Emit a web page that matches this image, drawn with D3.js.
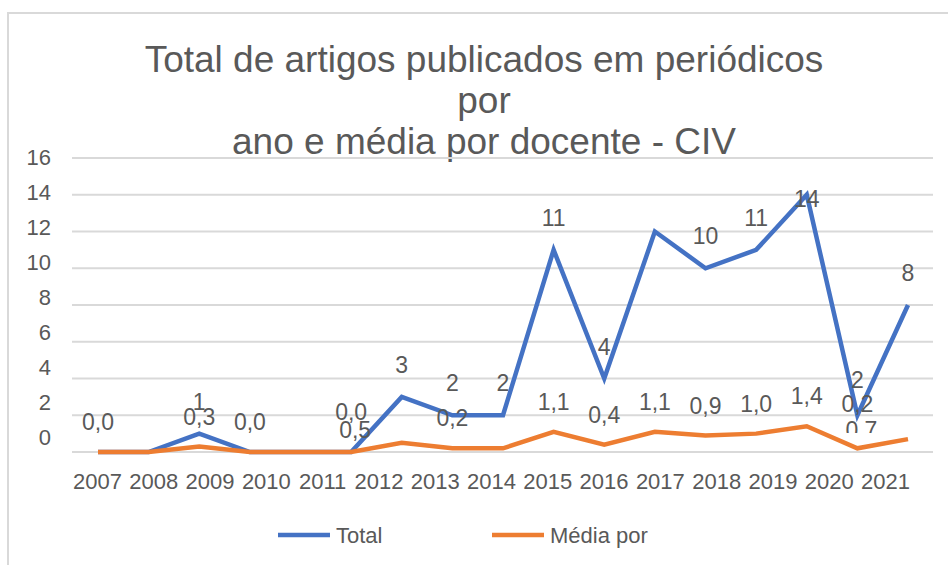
<!DOCTYPE html>
<html>
<head>
<meta charset="utf-8">
<script src="https://cdn.jsdelivr.net/npm/d3@7/dist/d3.min.js"></script>
<style>
body { margin:0; background:#fff; }
text { font-family:"Liberation Sans", Arial, sans-serif; fill:#595959; }
</style>
</head>
<body>
<svg id="chart"></svg>
<script>
// categories shown on the axis
var years = ["2007","2008","2009","2010","2011","2012","2013","2014",
             "2015","2016","2017","2018","2019","2020","2021"];

// series values (one per plotted point)
var total = [0,0,1,0,0,0,3,2,2,11,4,12,10,11,14,2,8];
var media = [0,0,0.3,0,0,0,0.5,0.2,0.2,1.1,0.4,1.1,0.9,1.0,1.4,0.2,0.7];

var yTicks = [0,2,4,6,8,10,12,14,16];

// which points carry a data label
var totalLabelIdx = [2,6,7,8,9,10,12,13,14,15,16];
var mediaLabelIdx = [0,2,3,5,6,7,9,10,11,12,13,14,15,16];

var titleLines = ["Total de artigos publicados em periódicos","por","ano e média por docente - CIV"];
var seriesNames = ["Total","Média por"];
var colors = ["#4472C4","#ED7D31"];

var fmt = function(v){ return d3.format(".1f")(v).replace(".",","); };

var screen = {width:948, height:565};

var svg = d3.select("#chart")
    .attr("width",screen.width)
    .attr("height",screen.height);

// outer frame (only top and left show in the picture)
svg.append("path")
    .attr("d","M8,565 L8,13 L948,13")
    .attr("fill","none")
    .attr("stroke","#D9D9D9")
    .attr("stroke-width",2);

// title
svg.append("g").selectAll("text")
    .data(titleLines)
    .enter()
    .append("text")
    .attr("x",484)
    .attr("y",function(d,i){ return 72 + i*41; })
    .attr("text-anchor","middle")
    .attr("font-size",37)
    .text(function(d){ return d; });

// scales
var xScale = d3.scaleLinear()
    .domain([0,total.length-1])
    .range([98,908]);

var yScale = d3.scaleLinear()
    .domain([0,16])
    .range([452,158]);

// tick labels sit slightly off the gridlines in the original
var yLabelScale = d3.scaleLinear()
    .domain([0,16])
    .range([437,157]);

var xLabelScale = d3.scalePoint()
    .domain(years)
    .range([97,885]);

// gridlines
svg.append("g")
    .selectAll("line")
    .data(yTicks)
    .enter()
    .append("line")
    .attr("x1",72)
    .attr("x2",933)
    .attr("y1",function(d){ return yScale(d); })
    .attr("y2",function(d){ return yScale(d); })
    .attr("stroke","#D9D9D9")
    .attr("stroke-width",2);

// y axis labels
var yAxis = d3.axisLeft(yLabelScale).tickValues(yTicks).tickSize(0).tickPadding(0);
var yg = svg.append("g")
    .attr("transform","translate(51,0)")
    .call(yAxis);
yg.select(".domain").remove();
yg.selectAll("text")
    .attr("font-size",22)
    .attr("font-family","Liberation Sans, Arial, sans-serif")
    .attr("fill","#595959");

// x axis labels
var xAxis = d3.axisBottom(xLabelScale).tickSize(0).tickPadding(0);
var xg = svg.append("g")
    .attr("transform","translate(0,473)")
    .call(xAxis);
xg.select(".domain").remove();
xg.selectAll("text")
    .attr("font-size",22)
    .attr("font-family","Liberation Sans, Arial, sans-serif")
    .attr("fill","#595959");

// lines
var lineGenerator = d3.line()
    .x(function(d,i){ return xScale(i); })
    .y(function(d){ return yScale(d); });

[total,media].forEach(function(series,k){
    svg.append("path")
        .datum(series)
        .attr("d",lineGenerator)
        .attr("fill","none")
        .attr("stroke",colors[k])
        .attr("stroke-width",4.5)
        .attr("stroke-linejoin","miter");
});

// data labels
var labels = svg.append("g");

// small nudges to follow where the original put a few labels
var totalNudge = {14:36, 15:-3};
labels.selectAll(".tl")
    .data(totalLabelIdx)
    .enter()
    .append("text")
    .attr("text-anchor","middle")
    .attr("x",function(i){ return xScale(i); })
    .attr("y",function(i){ return yScale(total[i]) - 32 + (totalNudge[i]||0); })
    .attr("dy","0.35em")
    .attr("font-size",23)
    .text(function(i){ return total[i]; });

// media labels: where each one is drawn (index of the point it sits over)
var mediaAt = {6:5, 16:15};
var mediaNudge = {5:-10, 6:8, 15:-14, 16:12};
svg.append("clipPath").attr("id","clipLow")
    .append("rect").attr("x",0).attr("y",0).attr("width",948).attr("height",433);

labels.selectAll(".ml")
    .data(mediaLabelIdx)
    .enter()
    .append("text")
    .attr("text-anchor","middle")
    .attr("x",function(i){ return xScale(mediaAt[i]!==undefined ? mediaAt[i] : i) + (mediaAt[i]!==undefined ? 4 : 0); })
    .attr("y",function(i){
        var at = mediaAt[i]!==undefined ? mediaAt[i] : i;
        return yScale(media[at]) - 30 + (mediaNudge[i]||0);
    })
    .attr("dy","0.35em")
    .attr("font-size",23)
    .attr("clip-path",function(i){ return i===16 ? "url(#clipLow)" : null; })
    .text(function(i){ return fmt(media[i]); });

// legend
var legend = svg.append("g");
var legendX = [278,492];
seriesNames.forEach(function(name,k){
    legend.append("line")
        .attr("x1",legendX[k]).attr("x2",legendX[k]+52)
        .attr("y1",535).attr("y2",535)
        .attr("stroke",colors[k])
        .attr("stroke-width",4.5);
    legend.append("text")
        .attr("x",legendX[k]+58)
        .attr("y",535)
        .attr("dy","0.35em")
        .attr("font-size",22)
        .text(name);
});
</script>
</body>
</html>
